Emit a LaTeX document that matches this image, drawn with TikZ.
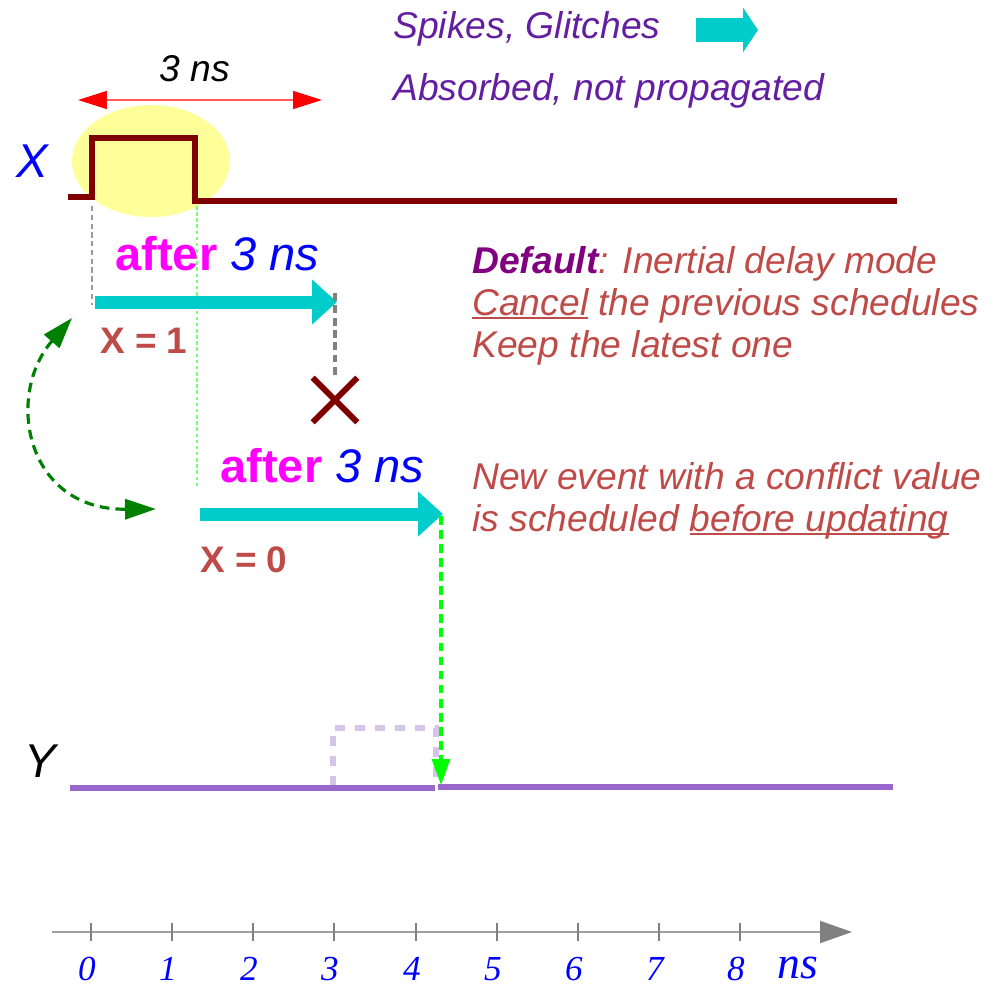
\documentclass[tikz,border=0pt]{standalone}
\usepackage{fontspec}
\setmainfont{Liberation Sans}
\newfontfamily\axisfont{Liberation Serif}
\usetikzlibrary{arrows.meta}
\definecolor{cyanA}{RGB}{0,204,204}
\definecolor{wave}{RGB}{128,0,0}
\definecolor{txtred}{RGB}{190,75,72}
\definecolor{toppurple}{RGB}{100,30,160}
\definecolor{defpurple}{RGB}{128,0,128}
\definecolor{magentaA}{RGB}{255,0,255}
\definecolor{blueA}{RGB}{0,0,255}
\definecolor{ywave}{RGB}{153,102,204}
\definecolor{lav}{RGB}{214,196,234}
\definecolor{dgreen}{RGB}{0,128,0}
\definecolor{bgreen}{RGB}{0,255,0}
\definecolor{lgreen}{RGB}{120,255,120}
\definecolor{axgray}{RGB}{160,160,160}
\definecolor{tipgray}{RGB}{128,128,128}
\definecolor{ellip}{RGB}{255,255,153}
\definecolor{redline}{RGB}{255,90,90}
\newcommand{\myul}[1]{\setbox0\hbox{#1}\rlap{\rule[-0.1em]{\wd0}{0.055em}}\box0\relax}
\begin{document}
\begin{tikzpicture}[x=0.02cm,y=-0.02cm,
  txt/.style={inner sep=0pt,anchor=base west,font=\fontsize{21.2}{25}\selectfont\itshape},
  aftertxt/.style={inner sep=0pt,anchor=base west,font=\fontsize{26.8}{30}\selectfont},
  valtxt/.style={inner sep=0pt,anchor=base west,text=txtred,font=\fontsize{21}{25}\selectfont\bfseries},
  siglbl/.style={inner sep=0pt,anchor=base,font=\fontsize{27}{30}\selectfont\itshape},
  axlbl/.style={inner sep=0pt,anchor=base,text=blueA,font=\axisfont\fontsize{20}{24}\selectfont\itshape},
  cyanarrow/.style={cyanA,line width=0.26cm,-{Triangle[length=0.5cm,width=0.87cm]}},
  tickline/.style={tipgray,line width=0.6pt}
]
\useasboundingbox (0,0) rectangle (1006,987);

% ---------- top-right note ----------
\node[txt,text=toppurple] (spikes) at (393,38) {Spikes, Glitches};
\node[txt,text=toppurple] (absorbed) at (393,100) {Absorbed, not propagated};
\coordinate (ba1) at (696,30);
\coordinate (ba2) at (758,30);
\draw[cyanA,line width=0.48cm,-{Triangle[length=0.3cm,width=0.88cm]}] (ba1) -- (ba2);

% ---------- 3 ns span ----------
\node[txt,anchor=base,text=black] (span) at (195,81) {3 ns};
\coordinate (sp1) at (78,100);
\coordinate (sp2) at (322,100);
\draw[redline,line width=0.9pt,{Triangle[length=0.58cm,width=0.36cm,color=red]}-{Triangle[length=0.58cm,width=0.36cm,color=red]}] (sp1) -- (sp2);

% ---------- X signal ----------
\fill[ellip] (151,161) ellipse [x radius=1.58cm, y radius=1.12cm];
\node[siglbl,text=blueA] (xl) at (32,177) {X};
\coordinate (x0) at (68,197);
\coordinate (x1) at (92,197);
\coordinate (x2) at (92,138);
\coordinate (x3) at (195,138);
\coordinate (x4) at (195,201);
\coordinate (x5) at (897,201);
\draw[wave,line width=3.3pt] (x0) -- (x1) -- (x2) -- (x3) -- (x4) -- (x5);

% guide lines
\coordinate (g1a) at (92,206);
\coordinate (g1b) at (92,305);
\draw[tipgray!80,line width=0.7pt,dash pattern=on 3pt off 2pt] (g1a) -- (g1b);
\coordinate (g2a) at (197,206);
\coordinate (g2b) at (197,488);
\draw[lgreen,line width=0.7pt,dash pattern=on 2pt off 1.5pt] (g2a) -- (g2b);

% ---------- first schedule ----------
\node[aftertxt] (after1) at (115,270) {\textcolor{magentaA}{\bfseries after} \textcolor{blueA}{\itshape 3 ns}};
\coordinate (a1s) at (95,302);
\coordinate (a1e) at (337,302);
\draw[cyanarrow] (a1s) -- (a1e);
\node[valtxt] (x1val) at (100,353) {X = 1};
\coordinate (c1) at (335,293);
\node[inner sep=0pt,minimum size=0.88cm] (cross) at (335,400) {};
\draw[tipgray,line width=2.3pt,dash pattern=on 4.5pt off 2.5pt] (c1) -- (cross.north);
\draw[wave,line width=3.4pt] (cross.north west) -- (cross.south east)
                             (cross.south west) -- (cross.north east);

% ---------- second schedule ----------
\node[aftertxt] (after2) at (220,482) {\textcolor{magentaA}{\bfseries after} \textcolor{blueA}{\itshape 3 ns}};
\coordinate (a2s) at (200,514);
\coordinate (a2e) at (443,514);
\draw[cyanarrow] (a2s) -- (a2e);
\node[valtxt] (x0val) at (200,572) {X = 0};

% curved relation arrow
\coordinate (cu1) at (72,318);
\coordinate (cu2) at (156,509);
\draw[dgreen,line width=1.8pt,dash pattern=on 5.5pt off 3.5pt,
  {Triangle[length=0.62cm,width=0.4cm]}-{Triangle[length=0.62cm,width=0.4cm]}]
  (cu1) .. controls (5,395) and (25,510) .. (cu2);

% ---------- explanation texts ----------
\node[txt,text=txtred] (def) at (472,273) {{\bfseries\color{defpurple}Default}: Inertial delay mode};
\node[txt,text=txtred] (cancel) at (472,315) {\myul{Cancel} the previous schedules};
\node[txt,text=txtred] (keep) at (472,357) {Keep the latest one};
\node[txt,text=txtred] (newev) at (472,489) {New event with a conflict value};
\node[txt,text=txtred] (sched) at (472,531) {is scheduled \myul{before updating}};

% ---------- Y signal ----------
\node[siglbl,text=black] (yl) at (40,777) {Y};
\coordinate (r1) at (333,786);
\coordinate (r2) at (333,728);
\coordinate (r3) at (436,728);
\coordinate (r4) at (436,786);
\draw[lav,line width=3pt,dash pattern=on 5.7pt off 5.7pt] (r1) -- (r2) -- (r3) -- (r4);
\coordinate (y0) at (70,788);
\coordinate (y1) at (435,788);
\coordinate (y2) at (438,787);
\coordinate (y3) at (893,787);
\draw[ywave,line width=3pt] (y0) -- (y1);
\draw[ywave,line width=3pt] (y2) -- (y3);
\coordinate (gr1) at (441,516);
\coordinate (gr2) at (441,785);
\draw[bgreen,line width=1.8pt,dash pattern=on 5pt off 3pt,-{Triangle[length=0.52cm,width=0.36cm]}] (gr1) -- (gr2);

% ---------- time axis ----------
\coordinate (ax1) at (52,932);
\coordinate (ax2) at (852,932);
\draw[axgray,line width=1.2pt,-{Triangle[length=0.64cm,width=0.44cm,color=tipgray]}] (ax1) -- (ax2);
\foreach \i/\xx in {0/91,1/172,2/253,3/334,4/416,5/497,6/578,7/659,8/740}{
  \draw[tickline] (\xx,923) -- (\xx,941);
  \node[axlbl] (t\i) at (\xx-4,980) {\i};
}
\node[axlbl,font=\axisfont\fontsize{26}{28}\selectfont\itshape] (tns) at (798,978) {ns};
\end{tikzpicture}
\end{document}
